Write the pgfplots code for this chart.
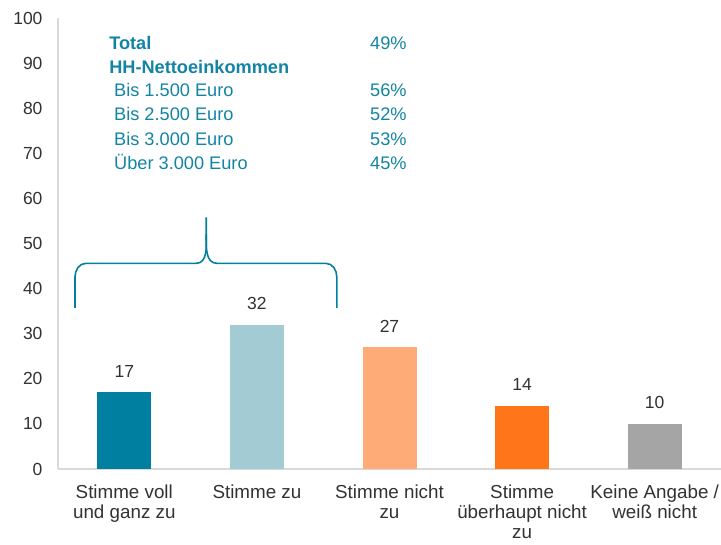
\documentclass[border=0pt]{standalone}
\usepackage{pgfplots}
\pgfplotsset{compat=1.18}
\usepackage{fontspec}
\setmainfont{Liberation Sans}
\definecolor{c1}{RGB}{0,127,160}
\definecolor{c2}{RGB}{162,203,212}
\definecolor{c3}{RGB}{255,171,120}
\definecolor{c4}{RGB}{255,117,26}
\definecolor{c5}{RGB}{165,165,165}
\definecolor{axgray}{RGB}{217,217,217}
\definecolor{txtgray}{RGB}{50,50,50}
\definecolor{tealtxt}{RGB}{20,132,164}
\newcommand{\lbl}{\fontsize{17.5bp}{20bp}\selectfont}
\newcommand{\cat}{\fontsize{18.8bp}{20.3bp}\selectfont}
\newcommand{\blk}{\fontsize{18.2bp}{22bp}\selectfont}
\begin{document}
\begin{tikzpicture}
\path[use as bounding box] (-58bp,-76bp) rectangle (663bp,469bp);
\begin{axis}[
  at={(0,0)}, anchor=south west, scale only axis,
  width=663bp, height=451bp,
  xmin=-0.5, xmax=4.5, ymin=0, ymax=100,
  /pgf/number format/assume math mode=true,
  axis lines*=left,
  axis line style={draw=axgray, line width=1.5bp, -},
  ytick={0,10,...,100},
  xtick={0,1,2,3,4},
  xticklabels={{Stimme voll\\und ganz zu},{Stimme zu},{Stimme nicht\\zu},{Stimme\\überhaupt nicht\\zu},{Keine Angabe /\\weiß nicht}},
  major tick length=0pt,
  tick label style={font=\lbl, text=txtgray},
  yticklabel style={xshift=-12bp},
  xticklabel style={font=\cat, align=center, anchor=north, yshift=-12bp},
  ybar, bar width=54bp, bar shift=0pt,
  nodes near coords,
  nodes near coords style={font=\lbl, text=txtgray, anchor=base, yshift=15bp},
  clip=false,
]
\addplot[fill=c1, draw=none] coordinates {(0,17)};
\addplot[fill=c2, draw=none] coordinates {(1,32)};
\addplot[fill=c3, draw=none] coordinates {(2,27)};
\addplot[fill=c4, draw=none] coordinates {(3,14)};
\addplot[fill=c5, draw=none] coordinates {(4,10)};

% brace
\draw[c1, line width=1.6bp]
  (axis cs:-0.372,35.7) -- (axis cs:-0.372,42.5)
  to[out=90,in=180] (axis cs:-0.29,45.6)
  -- (axis cs:0.54,45.6)
  to[out=0,in=-90] (axis cs:0.618,52)
  -- (axis cs:0.618,55.8);
\draw[c1, line width=1.6bp]
  (axis cs:1.603,35.7) -- (axis cs:1.603,42.5)
  to[out=90,in=0] (axis cs:1.52,45.6)
  -- (axis cs:0.70,45.6)
  to[out=180,in=-90] (axis cs:0.618,52);

% text block
\node[anchor=base west, font=\blk\bfseries, text=tealtxt, inner sep=0pt] at (axis cs:-0.115,93.1) {Total};
\node[anchor=base west, font=\blk\bfseries, text=tealtxt, inner sep=0pt] at (axis cs:-0.115,87.8) {HH-Nettoeinkommen};
\node[anchor=base west, font=\blk, text=tealtxt, inner sep=0pt] at (axis cs:-0.078,82.5) {Bis 1.500 Euro};
\node[anchor=base west, font=\blk, text=tealtxt, inner sep=0pt] at (axis cs:-0.078,77.2) {Bis 2.500 Euro};
\node[anchor=base west, font=\blk, text=tealtxt, inner sep=0pt] at (axis cs:-0.078,71.8) {Bis 3.000 Euro};
\node[anchor=base west, font=\blk, text=tealtxt, inner sep=0pt] at (axis cs:-0.078,66.5) {Über 3.000 Euro};
\node[anchor=base west, font=\blk, text=tealtxt, inner sep=0pt] at (axis cs:1.853,93.1) {49\%};
\node[anchor=base west, font=\blk, text=tealtxt, inner sep=0pt] at (axis cs:1.853,82.5) {56\%};
\node[anchor=base west, font=\blk, text=tealtxt, inner sep=0pt] at (axis cs:1.853,77.2) {52\%};
\node[anchor=base west, font=\blk, text=tealtxt, inner sep=0pt] at (axis cs:1.853,71.8) {53\%};
\node[anchor=base west, font=\blk, text=tealtxt, inner sep=0pt] at (axis cs:1.853,66.5) {45\%};
\end{axis}
\end{tikzpicture}
\end{document}
